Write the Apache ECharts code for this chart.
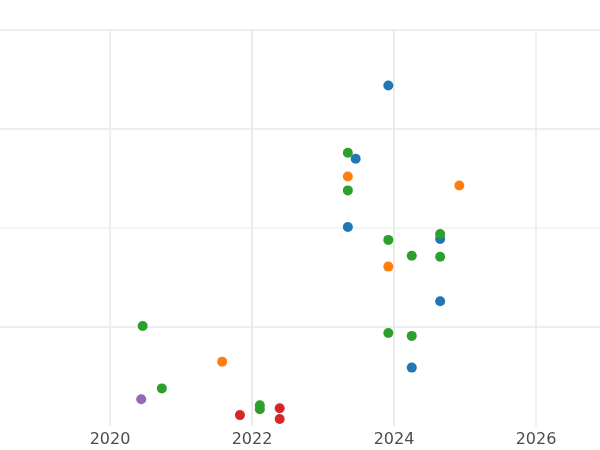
<!DOCTYPE html>
<html><head><meta charset="utf-8">
<script src="https://cdn.jsdelivr.net/npm/echarts@6/dist/echarts.min.js"></script>
<style>html,body{margin:0;background:#fff}#container{width:600px;height:450px}</style>
</head><body><div id="container"></div>
<script>
// [year, value]
const blue = [[2023.92, 3.44], [2023.46, 2.70], [2023.35, 2.01], [2024.65, 1.89], [2024.65, 1.26], [2024.25, 0.59]];
const orange = [[2023.35, 2.52], [2024.92, 2.43], [2023.92, 1.61], [2021.58, 0.65]];
const green = [[2023.35, 2.76], [2023.35, 2.38], [2023.92, 1.88], [2024.25, 1.72], [2024.65, 1.94], [2024.65, 1.71],
    [2020.46, 1.01], [2023.92, 0.94], [2024.25, 0.91], [2020.73, 0.38], [2022.11, 0.21], [2022.11, 0.17]];
const purple = [[2020.44, 0.27]];
const red = [[2021.83, 0.11], [2022.39, 0.18], [2022.39, 0.07]];

let myChart = echarts.init(document.getElementById("container"));

function sc(data, color) {
    return {type: 'scatter', data: data, symbolSize: 10, itemStyle: {color: color, opacity: 1}};
}

myChart.setOption({
    animation: false,
    grid: {left: -32, right: -7, top: 30, bottom: 24, containLabel: false, outerBoundsMode: 'none'},
    xAxis: {
        type: 'value', min: 2018, max: 2027, interval: 2,
        axisLine: {show: false}, axisTick: {show: false},
        axisLabel: {color: '#4d4d4d', fontSize: 16, fontFamily: 'DejaVu Sans', margin: 6,
            formatter: v => (v >= 2020 && v <= 2026) ? String(v) : ''},
        splitLine: {lineStyle: {color: ['#ebebeb', '#ebebeb', '#e6e6e6', '#e6e6e6', '#ebebeb', 'transparent'], width: 1.6}}
    },
    yAxis: {
        type: 'value', min: 0, max: 4, interval: 1,
        axisLine: {show: false}, axisTick: {show: false}, axisLabel: {show: false},
        splitLine: {lineStyle: {color: ['transparent', '#e8e8e8', '#f0f0f0', '#e8e8e8', '#e8e8e8'], width: 1.6}}
    },
    series: [sc(blue, '#1f77b4'), sc(orange, '#ff7f0e'), sc(green, '#2ca02c'), sc(purple, '#9467bd'), sc(red, '#d62728')]
});
</script></body></html>
